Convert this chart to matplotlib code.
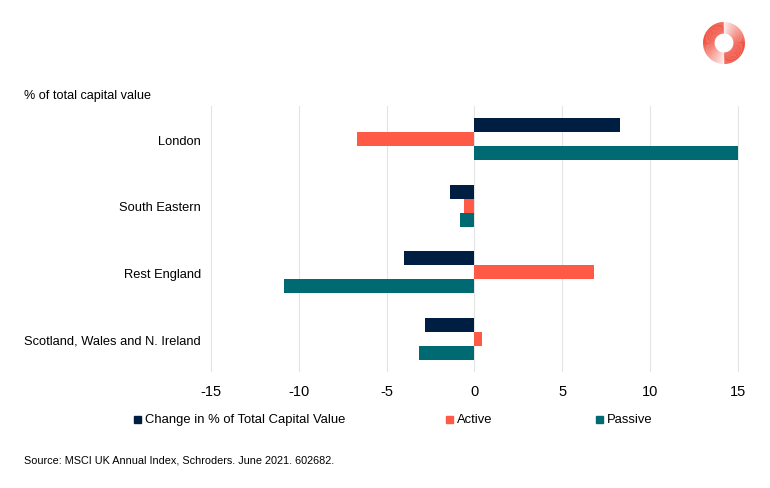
import matplotlib
matplotlib.use("Agg")
import matplotlib.pyplot as plt
from matplotlib.patches import Wedge, Rectangle
import numpy as np

plt.rcParams['font.family'] = ['Liberation Sans', 'DejaVu Sans']

regions = ["London", "South Eastern", "Rest England", "Scotland, Wales and N. Ireland"]
change = [8.26, -1.42, -4.03, -2.8]
active = [-6.7, -0.57, 6.8, 0.4]
passive = [15.0, -0.83, -10.83, -3.18]
xticks = [-15, -10, -5, 0, 5, 10, 15]
series_names = ["Change in % of Total Capital Value", "Active", "Passive"]
colors = ["#001E41", "#FF5A46", "#006A73"]

fig = plt.figure(figsize=(7.7, 4.89), dpi=100)
ax = fig.add_axes([210/770, 1-373/489, 529/770, 266/489])

y = np.arange(len(regions))
h = 0.209
for vals, off, c in zip([change, active, passive], [-h, 0, h], colors):
    ax.barh(y + off, vals, height=h, color=c, zorder=3)

ax.set_ylim(3.5, -0.5)
ax.set_xlim(-15.05, 15.05)
ax.set_xticks(xticks)
ax.set_xticklabels([str(t) for t in xticks], fontsize=10.5)
ax.set_yticks(y)
ax.set_yticklabels(regions, fontsize=9.3)
ax.tick_params(length=0)
ax.tick_params(axis='x', pad=9)
ax.tick_params(axis='y', pad=6.5)
ax.grid(axis='x', color='#E4E4E4', linewidth=0.8, zorder=0)
for s in ax.spines.values():
    s.set_visible(False)

fig.text(24/770, 1-96/489, "% of total capital value", fontsize=9.1, va='center', ha='left')
fig.text(24/770, 1-461/489, "Source: MSCI UK Annual Index, Schroders. June 2021. 602682.", fontsize=7.8, va='center', ha='left')

# legend
leg_x = [134, 446, 596]
for lx, name, c in zip(leg_x, series_names, colors):
    fig.patches.append(Rectangle((lx/770, 1-424/489), 7/770, 7/489, transform=fig.transFigure, color=c))
    fig.text((lx+11)/770, 1-420/489, name, fontsize=9.35, va='center', ha='left')

# logo
lax = fig.add_axes([(724-24)/770, 1-(44+24)/489, 48/770, 48/489])
lax.set_xlim(-1, 1)
lax.set_ylim(-1, 1)
lax.set_aspect('equal')
lax.axis('off')
n = 60
R = 21/24
W = 11.5/24
gap = 1.2
for i in range(n):
    t = i / n
    a0 = 90 + gap + t * (180 - 2 * gap)
    a1 = a0 + (180 - 2 * gap) / n + 0.4
    alpha = 1.0 if t < 0.45 else max(0.08, 1.0 - (t - 0.45) / 0.55 * 0.92)
    lax.add_patch(Wedge((0, 0), R, a0, a1, width=W, color="#F04E3E", alpha=alpha, lw=0))
    b0 = 270 + gap + t * (180 - 2 * gap)
    b1 = b0 + (180 - 2 * gap) / n + 0.4
    lax.add_patch(Wedge((0, 0), R, b0, b1, width=W, color="#F04E3E", alpha=alpha, lw=0))

fig.savefig("out.png", dpi=100)
